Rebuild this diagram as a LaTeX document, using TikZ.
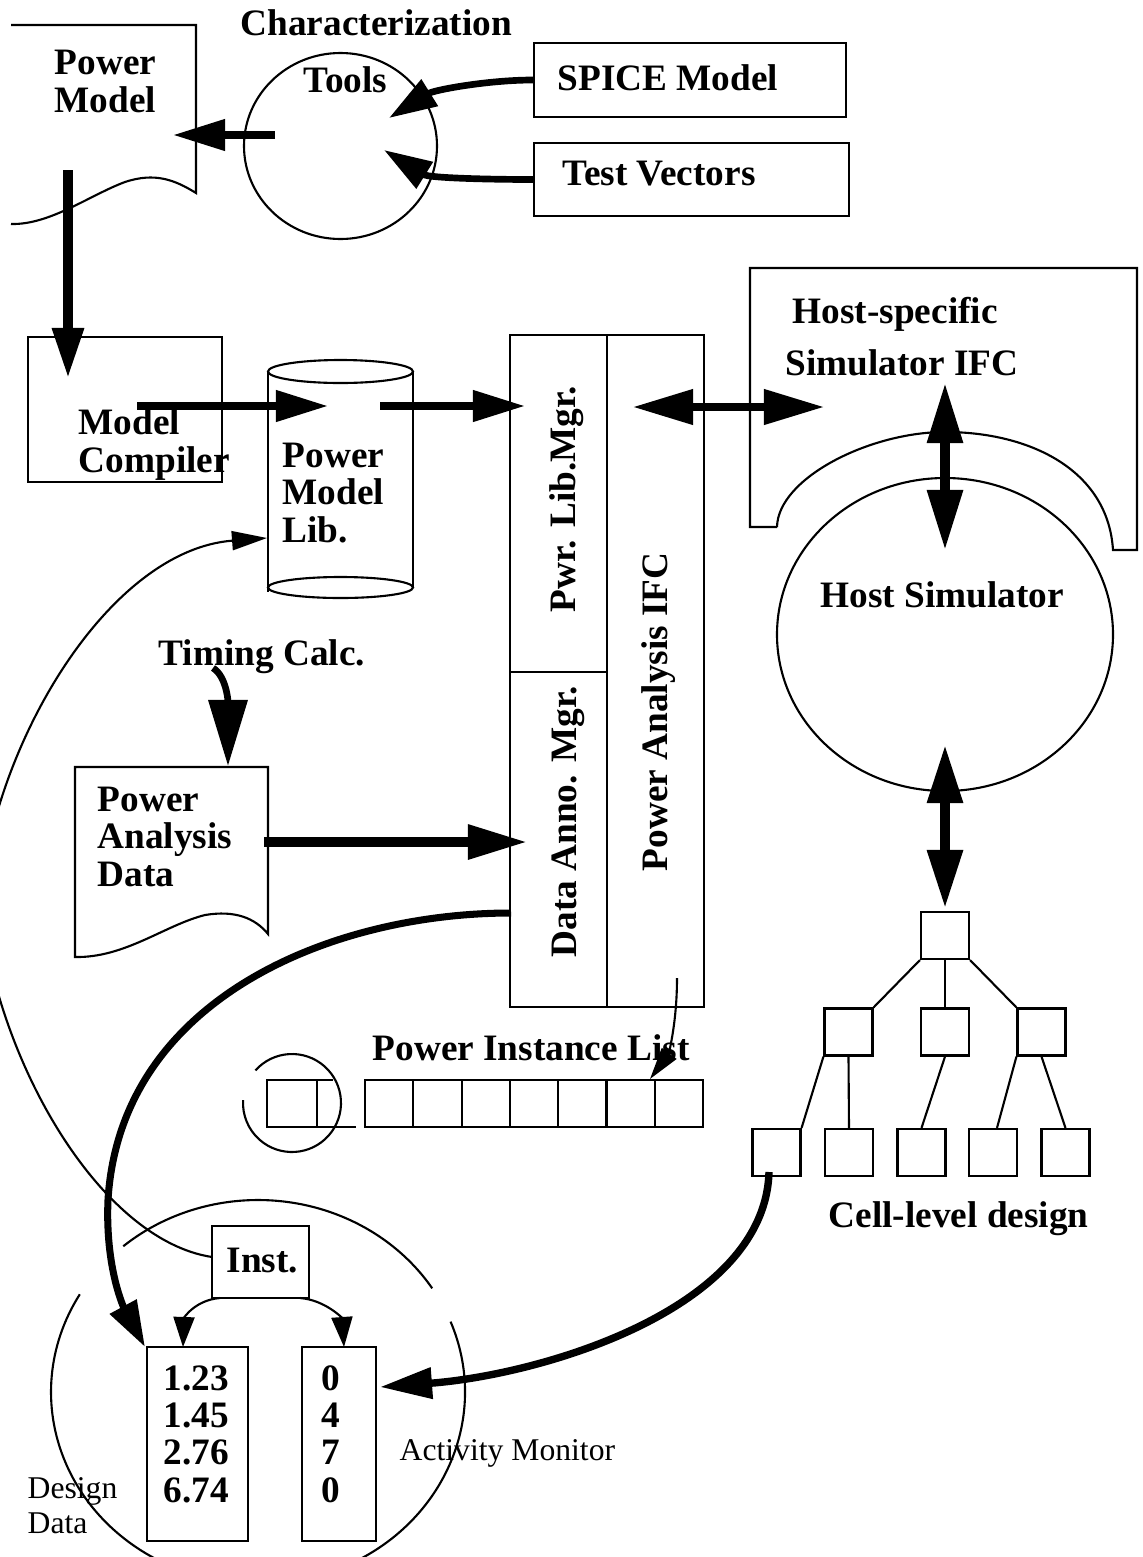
\documentclass[tikz,border=0pt]{standalone}
\usepackage{fontspec}
\setmainfont{Liberation Serif}
\usetikzlibrary{arrows.meta,calc}
\begin{document}
\begin{tikzpicture}[x=0.01cm,y=-0.01cm,
  thinl/.style={line width=0.6pt},
  lbl/.style={font=\fontsize{10.6}{10.55}\selectfont\bfseries, inner sep=0pt, anchor=base west, align=left},
  rlbl/.style={font=\fontsize{9}{9.95}\selectfont, inner sep=0pt, anchor=base west, align=left},
  vlbl/.style={lbl, rotate=90},
  fat/.style={line width=2.1pt},
  fatter/.style={line width=2.6pt},
  tipA/.style={-{Triangle[length=0.52cm,width=0.30cm]}},
  dblA/.style={{Triangle[length=0.6cm,width=0.34cm]}-{Triangle[length=0.6cm,width=0.34cm]}},
  boxn/.style={draw, thinl, inner sep=0pt},
  cell/.style={boxn, minimum width=0.48cm, minimum height=0.47cm},
]
\useasboundingbox (0,0) rectangle (1143,1557);
\fill[white] (0,0) rectangle (1143,1557);
\clip (0,0) rectangle (1143,1557);

% ---------- Power Model document ----------
\draw[thinl] (11,25) -- (196,25) -- (196,193) .. controls (175,180) and (155,172) .. (125,182) .. controls (90,195) and (50,225) .. (11,224);
\node[lbl] (pm) at (54,112) {Power\\Model};

% ---------- Characterization tools ----------
\node[lbl] (charlbl) at (240,35) {Characterization};
\draw[thinl] (340.5,146) ellipse[x radius=96.5, y radius=93];
\node[lbl] (toolslbl) at (303,92) {Tools};

\node[boxn, minimum width=3.12cm, minimum height=0.74cm] (spice) at (690,80) {};
\node[lbl] (spicelbl) at (557,90) {SPICE Model};
\node[boxn, minimum width=3.15cm, minimum height=0.73cm] (tv) at (691.5,179.5) {};
\node[lbl] (tvlbl) at (562,185) {Test Vectors};

\coordinate (spicein) at (389,118);
\coordinate (tvin) at (384,150);
\draw[line width=1.9pt, -{Triangle[length=0.48cm,width=0.30cm]}] (spice.west) .. controls +(-45,0) and +(45,-28) .. (spicein);
\draw[line width=1.9pt, -{Triangle[length=0.48cm,width=0.30cm]}] (tv.west) .. controls +(-45,0) and +(45,28) .. (tvin);

\coordinate (toolsout) at (275,135);
\coordinate (pmin) at (173,135);
\draw[fat, tipA] (toolsout) -- (pmin);

% ---------- Model compiler ----------
\coordinate (pmout) at (68,170);
\coordinate (mcin) at (68,378);
\draw[fatter, -{Triangle[length=0.5cm,width=0.30cm]}] (pmout) -- (mcin);
\node[boxn, minimum width=1.94cm, minimum height=1.45cm] (mc) at (125,409.5) {};
\node[lbl] (mclbl) at (78,472) {Model\\Compiler};

% ---------- Power Model Lib (cylinder) ----------
\draw[thinl] (268,372) -- (268,592);
\draw[thinl] (413,372) -- (413,587);
\draw[thinl] (340.5,371.5) ellipse[x radius=72.5, y radius=11.5];
\draw[thinl] (340.5,587.5) ellipse[x radius=72.5, y radius=10.5];
\node[lbl] (liblbl) at (282,542) {Power\\Model\\Lib.};

\coordinate (mcout) at (137,406);
\coordinate (libin) at (328,406);
\coordinate (libout) at (380,406);
\coordinate (pwrin) at (525,406);
\draw[fat, tipA] (mcout) -- (libin);
\draw[fat, tipA] (libout) -- (pwrin);

% ---------- Power analysis block ----------
\draw[thinl] (510,335) rectangle (704,1007);
\draw[thinl] (607,335) -- (607,1007);
\draw[thinl] (510,672) -- (607,672);
\node[vlbl] (plm) at (575,613) {Pwr. Lib.Mgr.};
\node[vlbl] (dam) at (576,958) {Data Anno. Mgr.};
\node[vlbl] (pai) at (667,872) {Power Analysis IFC};

% ---------- Host-specific simulator IFC ----------
\draw[thinl] (777,527) -- (750,527) -- (750,268) -- (1137,268) -- (1137,550) -- (1113,550)
  .. controls (1108,470) and (1030,432) .. (945,432) .. controls (870,432) and (778,478) .. (777,527);
\node[lbl] (hs1) at (792,323) {Host-specific};
\node[lbl] (hs2) at (785,375) {Simulator IFC};

\coordinate (paiout) at (633,407);
\coordinate (hsin) at (824,407);
\draw[fat, dblA] (paiout) -- (hsin);

\coordinate (hsdown) at (945,383);
\coordinate (simup) at (945,550);
\draw[fatter, dblA] (hsdown) -- (simup);

% ---------- Host simulator ----------
\draw[thinl] (945,634.5) ellipse[x radius=168, y radius=156.5];
\node[lbl] (hslbl) at (820,607) {Host Simulator};

\coordinate (simdown) at (945,745);
\coordinate (treeup) at (945,908);
\draw[fatter, {Triangle[length=0.58cm,width=0.34cm]}-{Triangle[length=0.58cm,width=0.34cm]}] (simdown) -- (treeup);

% ---------- Cell-level design tree ----------
\node[cell] (t0) at (945,935.5) {};
\node[cell] (m1) at (848.5,1032) {};
\node[cell] (m2) at (945,1032) {};
\node[cell] (m3) at (1041.5,1032) {};
\node[cell] (b1) at (776.5,1152.5) {};
\node[cell] (b2) at (849,1152.5) {};
\node[cell] (b3) at (921.5,1152.5) {};
\node[cell] (b4) at (993,1152.5) {};
\node[cell] (b5) at (1065.5,1152.5) {};
\draw[thinl] (t0.south west) -- (m1.north east);
\draw[thinl] (t0.south) -- (m2.north);
\draw[thinl] (t0.south east) -- (m3.north west);
\draw[thinl] (m1.south west) -- (b1.north east);
\draw[thinl] (m1.south) -- (b2.north);
\draw[thinl] (m2.south) -- (b3.north);
\draw[thinl] (m3.south west) -- ($(b4.north)+(4,0)$);
\draw[thinl] (m3.south) -- (b5.north);
\node[lbl] (celllbl) at (828,1227) {Cell-level design};

% ---------- Timing calc / power analysis data ----------
\node[lbl] (tclbl) at (158,665) {Timing Calc.};
\coordinate (tcout) at (213,668);
\coordinate (padin) at (228,766);
\draw[line width=1.9pt, -{Triangle[length=0.66cm,width=0.38cm]}] (tcout) .. controls (226,676) and (228,700) .. (padin);

\draw[thinl] (75,767) -- (268,767) -- (268,934) .. controls (255,918) and (235,910) .. (205,915) .. controls (165,925) and (125,958) .. (75,957) -- cycle;
\node[lbl] (padlbl) at (97,886) {Power\\Analysis\\Data};

\coordinate (padout) at (264,842);
\coordinate (damin) at (527,842);
\draw[fatter, -{Triangle[length=0.59cm,width=0.33cm]}] (padout) -- (damin);

% ---------- Power instance list ----------
\node[lbl] (pil) at (372,1060) {Power Instance List};
\draw[thinl] (333,1080) -- (267,1080) -- (267,1127) -- (356,1127);
\draw[thinl] (317,1080) -- (317,1127);
\draw[thinl] (365,1080) rectangle (703,1127);
\foreach \k in {1,...,6} { \draw[thinl] ({365+48.29*\k},1080) -- ({365+48.29*\k},1127); }
\draw[thinl] (292,1103) ++(-138.3:49) arc[start angle=-138.3, end angle=183.5, radius=49];

\coordinate (paidown) at (677,978);
\coordinate (listin) at (650,1079);
\draw[thinl, -{Triangle[length=0.32cm,width=0.18cm]}] (paidown) .. controls (677,1025) and (668,1055) .. (listin);

% ---------- Design data ----------
\draw[thinl] (258,1392) ++(-130.6:207 and 192) arc[start angle=-130.6, end angle=-32.7, x radius=207, y radius=192];
\draw[thinl] (258,1392) ++(-21.5:207 and 192) arc[start angle=-21.5, end angle=210.6, x radius=207, y radius=192];

\node[boxn, minimum width=0.97cm, minimum height=0.72cm] (inst) at (260.5,1262) {};
\node[lbl] (instlbl) at (226,1272) {Inst.};
\node[boxn, minimum width=1.01cm, minimum height=1.94cm] (vals) at (197.5,1444) {};
\node[boxn, minimum width=0.74cm, minimum height=1.94cm] (acts) at (339,1444) {};
\node[lbl, font=\fontsize{10.6}{10.6}\selectfont\bfseries] (valslbl) at (163,1502) {1.23\\1.45\\2.76\\6.74};
\node[lbl, font=\fontsize{10.6}{10.6}\selectfont\bfseries, anchor=base, align=center] (actslbl) at (331,1502) {0\\4\\7\\0};

\coordinate (instbl) at (220,1298);
\coordinate (instbr) at (300,1298);
\coordinate (valsin) at (183,1347);
\coordinate (actsin) at (344,1347);
\draw[thinl, -{Triangle[length=0.30cm,width=0.21cm]}] (instbl) .. controls (195,1300) and (184,1318) .. (valsin);
\draw[thinl, -{Triangle[length=0.30cm,width=0.21cm]}] (instbr) .. controls (325,1300) and (342,1318) .. (actsin);

\node[rlbl] (amlbl) at (399,1460) {Activity Monitor};
\node[rlbl] (ddlbl) at (27,1533) {Design\\Data};

% ---------- long connectors ----------
\coordinate (damout) at (511,913);
\coordinate (valstop) at (145,1347);
\draw[line width=2pt, -{Triangle[length=0.46cm,width=0.29cm]}] (damout) .. controls (330,913) and (120,1000) .. (108,1200) .. controls (105,1270) and (125,1310) .. (valstop);

\coordinate (cellout) at (769,1172);
\coordinate (actsright) at (380,1387);
\draw[line width=2.1pt, -{Triangle[length=0.52cm,width=0.30cm]}] (cellout) .. controls (765,1310) and (540,1375) .. (actsright);

\coordinate (instw) at (212,1257);
\coordinate (libw) at (267,538);
\coordinate (offleft) at (-20,900);
\draw[thinl, -{Triangle[length=0.35cm,width=0.19cm]}] (instw) .. controls (100,1240) and (-5,1060) .. (offleft) .. controls (-5,740) and (110,550) .. (libw);
\end{tikzpicture}
\end{document}
